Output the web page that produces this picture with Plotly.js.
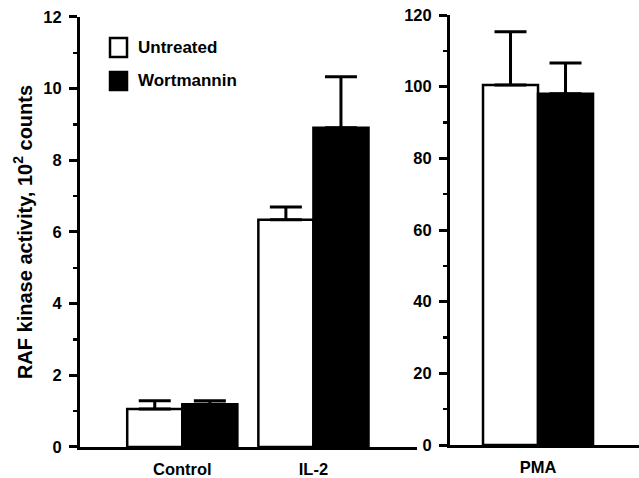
<!DOCTYPE html>
<html>
<head>
<meta charset="utf-8">
<script src="https://cdn.plot.ly/plotly-3.0.1.min.js"></script>
<style>html,body{margin:0;padding:0;background:#fff;}#chart{width:639px;height:478px;}</style>
</head>
<body>
<div id="chart"></div>
<script>
// Data
const categoriesLeft = ['Control', 'IL-2'];
const untreatedLeft = [1.06, 6.34];
const untreatedLeftErr = [0.23, 0.36];
const wortmanninLeft = [1.19, 8.91];
const wortmanninLeftErr = [0.10, 1.42];

const categoriesRight = ['PMA'];
const untreatedRight = [100.5];
const untreatedRightErr = [14.8];
const wortmanninRight = [98.0];
const wortmanninRightErr = [8.6];

const seriesNames = ['Untreated', 'Wortmannin'];
const leftTicks = [0, 2, 4, 6, 8, 10, 12];
const rightTicks = [0, 20, 40, 60, 80, 100, 120];

const FONT = 'Liberation Sans, Arial, Helvetica, sans-serif';
const lineW = 2.5;

function errBar(arr) {
  return {type: 'data', symmetric: false, array: arr, arrayminus: arr.map(() => 0),
          color: '#000', thickness: 3, width: 16, visible: true};
}
function barTrace(xs, ys, err, name, fill, xa, ya) {
  return {type: 'bar', x: xs, y: ys, name: name, xaxis: xa, yaxis: ya,
          marker: {color: fill, line: {color: '#000', width: lineW}},
          error_y: errBar(err), showlegend: false, hoverinfo: 'x+y'};
}

const data = [
  barTrace(categoriesLeft, untreatedLeft, untreatedLeftErr, seriesNames[0], '#fff', 'x', 'y'),
  barTrace(categoriesLeft, wortmanninLeft, wortmanninLeftErr, seriesNames[1], '#000', 'x', 'y'),
  barTrace(categoriesRight, untreatedRight, untreatedRightErr, seriesNames[0], '#fff', 'x2', 'y2'),
  barTrace(categoriesRight, wortmanninRight, wortmanninRightErr, seriesNames[1], '#000', 'x2', 'y2')
];

const tickFont = {family: FONT, size: 16.5, color: '#000', weight: 'bold'};

const yCommon = {
  showline: true, linecolor: '#000', linewidth: 3, showgrid: false, zeroline: false,
  ticks: 'outside', ticklen: 8, tickwidth: 3, tickcolor: '#000',
  tickfont: tickFont, fixedrange: true, ticklabelstandoff: 4,
  minor: {ticks: 'outside', ticklen: 4, tickwidth: 2.5, tickcolor: '#000', showgrid: false}
};
const xCommon = {
  showline: true, linecolor: '#000', linewidth: 3, showgrid: false, zeroline: false,
  ticks: '', tickfont: tickFont, type: 'category', fixedrange: true, ticklabelstandoff: 5
};

const layout = {
  width: 639, height: 478,
  margin: {l: 80, r: 0, t: 15, b: 31, pad: 0},
  paper_bgcolor: '#fff', plot_bgcolor: '#fff',
  barmode: 'group', bargap: 0.16, bargroupgap: 0,
  showlegend: false,
  font: {family: FONT, color: '#000'},
  xaxis: Object.assign({}, xCommon, {domain: [0, 0.6029], anchor: 'y', range: [-0.78, 1.79]}),
  yaxis: Object.assign({}, yCommon, {domain: [0, 0.9954], anchor: 'x', range: [0, 12],
    tickvals: leftTicks, ticktext: leftTicks.map(String), minor: Object.assign({}, yCommon.minor, {dtick: 1}),
    title: {text: 'RAF kinase activity, 10<sup>2</sup> counts', font: {family: FONT, size: 20, weight: 'bold', color: '#000'}, standoff: 6}}),
  xaxis2: Object.assign({}, xCommon, {domain: [0.6619, 1], anchor: 'y2', range: [-0.672, 0.771]}),
  yaxis2: Object.assign({}, yCommon, {domain: [0.0046, 1], anchor: 'x2', range: [0, 120],
    tickvals: rightTicks, ticktext: rightTicks.map(String), minor: Object.assign({}, yCommon.minor, {dtick: 10})}),
  shapes: [
    {type: 'rect', xref: 'paper', yref: 'paper', x0: 0.0537, x1: 0.0841, y0: 0.9028, y1: 0.9468,
     fillcolor: '#fff', line: {color: '#000', width: 2.5}},
    {type: 'rect', xref: 'paper', yref: 'paper', x0: 0.0537, x1: 0.0841, y0: 0.8264, y1: 0.8681,
     fillcolor: '#000', line: {color: '#000', width: 2.5}}
  ],
  annotations: [
    {xref: 'paper', yref: 'paper', x: 0.100, y: 0.9248, xanchor: 'left', yanchor: 'middle',
     text: seriesNames[0], showarrow: false, font: {family: FONT, size: 17, weight: 'bold', color: '#000'}},
    {xref: 'paper', yref: 'paper', x: 0.100, y: 0.8495, xanchor: 'left', yanchor: 'middle',
     text: seriesNames[1], showarrow: false, font: {family: FONT, size: 17, weight: 'bold', color: '#000'}}
  ]
};

Plotly.newPlot('chart', data, layout, {displayModeBar: false, staticPlot: true});
</script>
</body>
</html>
